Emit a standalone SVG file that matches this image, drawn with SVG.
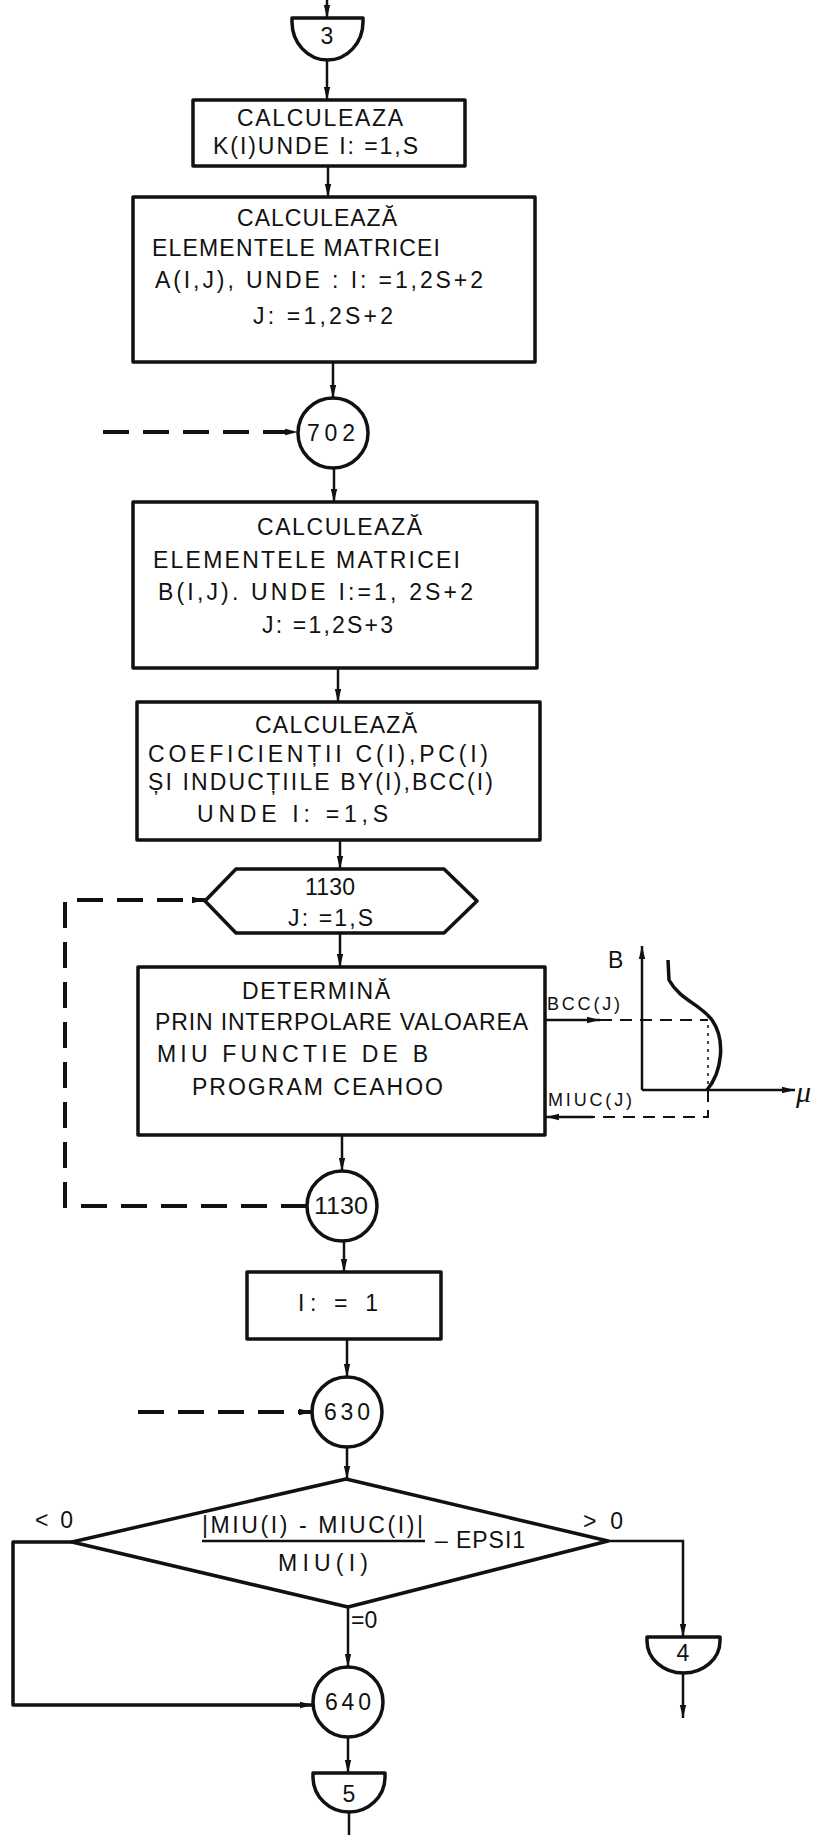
<svg xmlns="http://www.w3.org/2000/svg" width="819" height="1835" viewBox="0 0 819 1835">
<defs>
<style>
.s{fill:none;stroke:#111;stroke-width:3.5;stroke-linejoin:round}
.c{fill:none;stroke:#111;stroke-width:2.5}
.d{fill:none;stroke:#111;stroke-width:4;stroke-dasharray:26 14}
.dt{fill:none;stroke:#111;stroke-width:2;stroke-dasharray:12 8}
.t{font-family:"Liberation Sans",Arial,sans-serif;font-size:23px;fill:#111}
.m{text-anchor:middle}
.sm{font-size:18px}
</style>
<marker id="a" markerUnits="userSpaceOnUse" markerWidth="14" markerHeight="8" refX="13" refY="4" orient="auto">
<path d="M0,0.8 L13,4 L0,7.2 z" fill="#111"/>
</marker>
</defs>
<rect width="819" height="1835" fill="#fff"/>

<g id="connectors">
<line class="c" x1="327" y1="0" x2="327" y2="18" marker-end="url(#a)"/>
<line class="c" x1="327" y1="60" x2="327" y2="100" marker-end="url(#a)"/>
<line class="c" x1="328" y1="166" x2="328" y2="197" marker-end="url(#a)"/>
<line class="c" x1="333" y1="362" x2="333" y2="398" marker-end="url(#a)"/>
<path class="d" d="M103,432 H298" marker-end="url(#a)"/>
<line class="c" x1="334" y1="468" x2="334" y2="502" marker-end="url(#a)"/>
<line class="c" x1="338" y1="668" x2="338" y2="702" marker-end="url(#a)"/>
<line class="c" x1="340" y1="840" x2="340" y2="869" marker-end="url(#a)"/>
<line class="c" x1="340" y1="933" x2="340" y2="967" marker-end="url(#a)"/>
<line class="c" x1="342" y1="1135" x2="342" y2="1171" marker-end="url(#a)"/>
<path class="d" d="M307,1206 H65 V900 H205" stroke-dasharray="24 14" marker-end="url(#a)"/>
<line class="c" x1="344" y1="1241" x2="344" y2="1272" marker-end="url(#a)"/>
<line class="c" x1="347" y1="1339" x2="347" y2="1377" marker-end="url(#a)"/>
<path class="d" d="M138,1412 H312" stroke-dasharray="28 18" marker-end="url(#a)"/>
<line class="c" x1="347" y1="1447" x2="347" y2="1479" marker-end="url(#a)"/>
<path class="s" d="M72,1542 H13 V1705 H313" marker-end="url(#a)"/>
<path class="c" d="M608,1541 H683 V1637" marker-end="url(#a)"/>
<line class="c" x1="683" y1="1673" x2="683" y2="1718" marker-end="url(#a)"/>
<line class="c" x1="348" y1="1607" x2="348" y2="1667" marker-end="url(#a)"/>
<line class="c" x1="348" y1="1737" x2="348" y2="1773" marker-end="url(#a)"/>
<line class="c" x1="349" y1="1812" x2="349" y2="1835"/>
<line class="c" x1="545" y1="1020" x2="600" y2="1020" marker-end="url(#a)"/>
<line class="dt" x1="600" y1="1020" x2="708" y2="1020"/>
<line x1="708" y1="1025" x2="708" y2="1090" stroke="#111" stroke-width="1.5" stroke-dasharray="3 5"/>
<path class="dt" d="M708,1090 V1117 H593"/>
<line class="c" x1="593" y1="1117" x2="546" y2="1117" marker-end="url(#a)"/>
</g>

<g id="n3">
<path class="s" d="M292,18 H363 V22 A35.5,38 0 0 1 292,22 Z"/>
<text class="t m" x="327" y="44">3</text>
</g>

<g id="box1">
<rect class="s" x="193" y="100" width="272" height="66"/>
<text class="t" x="237" y="126" textLength="166" lengthAdjust="spacing">CALCULEAZA</text>
<text class="t" x="213" y="154" textLength="205" lengthAdjust="spacing">K(I)UNDE I: =1,S</text>
</g>

<g id="box2">
<rect class="s" x="133" y="197" width="402" height="165"/>
<text class="t" x="237" y="226" textLength="160" lengthAdjust="spacing">CALCULEAZĂ</text>
<text class="t" x="152" y="256" textLength="288" lengthAdjust="spacing">ELEMENTELE MATRICEI</text>
<text class="t" x="155" y="288" textLength="328" lengthAdjust="spacing">A(I,J), UNDE : I: =1,2S+2</text>
<text class="t" x="253" y="324" textLength="140" lengthAdjust="spacing">J: =1,2S+2</text>
</g>

<g id="n702">
<circle class="s" cx="333" cy="433" r="35"/>
<text class="t m" x="331" y="441" textLength="48" lengthAdjust="spacing">702</text>
</g>

<g id="box3">
<rect class="s" x="133" y="502" width="404" height="166"/>
<text class="t" x="257" y="535" textLength="165" lengthAdjust="spacing">CALCULEAZĂ</text>
<text class="t" x="153" y="568" textLength="307" lengthAdjust="spacing">ELEMENTELE MATRICEI</text>
<text class="t" x="158" y="600" textLength="315" lengthAdjust="spacing">B(I,J). UNDE  I:=1, 2S+2</text>
<text class="t" x="262" y="633" textLength="131" lengthAdjust="spacing">J: =1,2S+3</text>
</g>

<g id="box4">
<rect class="s" x="137" y="702" width="403" height="138"/>
<text class="t" x="255" y="733" textLength="162" lengthAdjust="spacing">CALCULEAZĂ</text>
<text class="t" x="148" y="762" textLength="340" lengthAdjust="spacing">COEFICIENȚII C(I),PC(I)</text>
<text class="t" x="148" y="790" textLength="345" lengthAdjust="spacing">ȘI INDUCȚIILE BY(I),BCC(I)</text>
<text class="t" x="197" y="822" textLength="191" lengthAdjust="spacing">UNDE  I: =1,S</text>
</g>

<g id="loop1130">
<path class="s" d="M205,901 L236,869 H444 L477,901 L444,933 H236 Z"/>
<text class="t" x="305" y="895" textLength="50" lengthAdjust="spacing">1130</text>
<text class="t" x="288" y="926" textLength="85" lengthAdjust="spacing">J: =1,S</text>
</g>

<g id="box5">
<rect class="s" x="138" y="967" width="407" height="168"/>
<text class="t" x="242" y="999" textLength="148" lengthAdjust="spacing">DETERMINĂ</text>
<text class="t" x="155" y="1030" textLength="373" lengthAdjust="spacing">PRIN INTERPOLARE VALOAREA</text>
<text class="t" x="157" y="1062" textLength="271" lengthAdjust="spacing">MIU  FUNCTIE  DE B</text>
<text class="t" x="192" y="1095" textLength="251" lengthAdjust="spacing">PROGRAM  CEAHOO</text>
</g>

<g id="graph">
<line class="c" x1="642" y1="1090" x2="642" y2="946" marker-end="url(#a)"/>
<line class="c" x1="642" y1="1090" x2="795" y2="1090" marker-end="url(#a)"/>
<path class="s" d="M668,960 L669,980 C680,1000 700,1004 712,1020 C726,1040 722,1072 707,1090"/>
<text class="t" x="608" y="968" font-size="21">B</text>
<text x="796" y="1102" font-family="Liberation Serif,serif" font-style="italic" font-size="30" fill="#111">μ</text>
<text class="t sm" x="547" y="1010" textLength="73" lengthAdjust="spacing">BCC(J)</text>
<text class="t sm" x="548" y="1106" textLength="84" lengthAdjust="spacing">MIUC(J)</text>
</g>

<g id="n1130">
<circle class="s" cx="342" cy="1206" r="35"/>
<text class="t m" x="341" y="1214" font-size="22" textLength="54" lengthAdjust="spacingAndGlyphs">1130</text>
</g>

<g id="box6">
<rect class="s" x="247" y="1272" width="194" height="67"/>
<text class="t" x="298" y="1311" textLength="80" lengthAdjust="spacing">I: = 1</text>
</g>

<g id="n630">
<circle class="s" cx="347" cy="1412" r="35"/>
<text class="t m" x="347" y="1420" textLength="46" lengthAdjust="spacing">630</text>
</g>

<g id="decision">
<path class="s" d="M346,1479 L608,1541 L348,1607 L72,1542 Z"/>
<text class="t" x="202" y="1533" font-size="20" textLength="221" lengthAdjust="spacing">|MIU(I) - MIUC(I)|</text>
<line x1="202" y1="1541" x2="425" y2="1541" stroke="#111" stroke-width="2.5"/>
<text class="t" x="278" y="1571" font-size="20" textLength="90" lengthAdjust="spacing">MIU(I)</text>
<text class="t" x="435" y="1548" font-size="20" textLength="90" lengthAdjust="spacing">– EPSI1</text>
<text class="t" x="35" y="1528" textLength="38" lengthAdjust="spacing">&lt; 0</text>
<text class="t" x="583" y="1529" textLength="40" lengthAdjust="spacing">&gt; 0</text>
<text class="t" x="351" y="1628" font-size="20">=0</text>
</g>

<g id="n4">
<path class="s" d="M647,1637 H720 V1641 A36.5,32 0 0 1 647,1641 Z"/>
<text class="t m" x="683" y="1661" font-size="16">4</text>
</g>

<g id="n640">
<circle class="s" cx="348" cy="1702" r="35"/>
<text class="t m" x="348" y="1710" textLength="46" lengthAdjust="spacing">640</text>
</g>

<g id="n5">
<path class="s" d="M313,1773 H385 V1777 A36,35 0 0 1 313,1777 Z"/>
<text class="t m" x="349" y="1802" font-size="19">5</text>
</g>
</svg>
